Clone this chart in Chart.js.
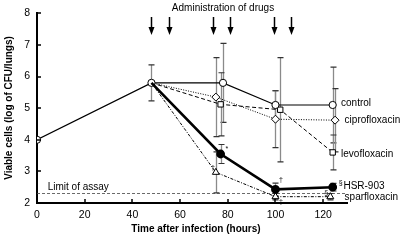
<!DOCTYPE html>
<html>
<head>
<meta charset="utf-8">
<script src="https://cdn.jsdelivr.net/npm/chart.js@4.4.1/dist/chart.umd.min.js"></script>
<style>
  html, body { margin: 0; padding: 0; background: #fff; }
</style>
</head>
<body>
<canvas id="myChart" width="400" height="240"></canvas>
<script>
// values (log CFU / lungs)
const controlX = [0, 48, 78, 100, 124];
const controlY = [4.0, 5.8, 5.8, 5.1, 5.1];
const controlErr = [0, 0.57, 1.25, 0.45, 1.2];

const ciproX = [48, 75, 100, 125];
const ciproY = [5.8, 5.35, 4.65, 4.62];
const ciproErr = [0, 1.25, 0.9, 1.0];

const levoX = [48, 77, 102, 124];
const levoY = [5.8, 5.12, 4.95, 3.6];
const levoErr = [0, 1.0, 1.65, 0.55];

const hsrX = [48, 77, 100, 124];
const hsrY = [5.8, 3.55, 2.43, 2.5];
const hsrErr = [0, 0.3, 0.2, 0.12];

const sparX = [48, 75, 100, 123];
const sparY = [5.8, 2.97, 2.2, 2.2];
const sparErr = [0, 0.65, 0.1, 0.1];

const limitOfAssay = 2.3;
const arrowTimes = [48, 55.5, 74, 81, 99.5, 106.5];
const xTicks = [0, 20, 40, 60, 80, 100, 120];
const yTicks = [2, 3, 4, 5, 6, 7, 8];

const FONT = "'Liberation Sans', Arial, sans-serif";

function pts(xs, ys) {
  return xs.map((x, i) => ({ x: x, y: ys[i] }));
}

// first point at 48h is shared with control, hide it on the drug lines
function radii(n, r) {
  const a = [];
  for (let i = 0; i < n; i++) a.push(i === 0 ? 0 : r);
  return a;
}

const series = [
  { label: 'HSR-903', x: hsrX, y: hsrY, err: hsrErr },
  { label: 'control', x: controlX, y: controlY, err: controlErr },
  { label: 'ciprofloxacin', x: ciproX, y: ciproY, err: ciproErr },
  { label: 'levofloxacin', x: levoX, y: levoY, err: levoErr },
  { label: 'sparfloxacin', x: sparX, y: sparY, err: sparErr }
];

const errorBars = {
  id: 'errorBars',
  beforeDatasetsDraw(chart) {
    const ctx = chart.ctx;
    const xs = chart.scales.x, ys = chart.scales.y;
    ctx.save();
    series.forEach(s => {
      s.x.forEach((xv, i) => {
        const e = s.err[i];
        if (!e) return;
        const px = Math.round(xs.getPixelForValue(xv)) + 0.5;
        const top = ys.getPixelForValue(s.y[i] + e);
        const bot = ys.getPixelForValue(Math.max(s.y[i] - e, 2));
        ctx.strokeStyle = '#8a8a8a';
        ctx.lineWidth = 1.3;
        ctx.beginPath();
        ctx.moveTo(px, top);
        ctx.lineTo(px, bot);
        ctx.stroke();
        ctx.strokeStyle = '#333';
        ctx.lineWidth = 1.2;
        ctx.beginPath();
        ctx.moveTo(px - 3, top); ctx.lineTo(px + 3, top);
        if (s.y[i] - e > 2) { ctx.moveTo(px - 3, bot); ctx.lineTo(px + 3, bot); }
        ctx.stroke();
      });
    });
    ctx.restore();
  }
};

const decorations = {
  id: 'decorations',
  afterDraw(chart) {
    const ctx = chart.ctx;
    const xs = chart.scales.x, ys = chart.scales.y;
    const area = chart.chartArea;
    ctx.save();

    // inward tick marks
    ctx.strokeStyle = '#000';
    ctx.lineWidth = 1.5;
    ctx.beginPath();
    xTicks.forEach(t => {
      if (t === 0) return;
      const px = Math.round(xs.getPixelForValue(t));
      ctx.moveTo(px, area.bottom);
      ctx.lineTo(px, area.bottom - 4);
    });
    yTicks.forEach(t => {
      const py = Math.round(ys.getPixelForValue(t));
      ctx.moveTo(area.left, py);
      ctx.lineTo(area.left + 4, py);
    });
    ctx.stroke();

    // drug administration arrows
    ctx.fillStyle = '#000';
    ctx.lineWidth = 1.5;
    arrowTimes.forEach(t => {
      const px = Math.round(xs.getPixelForValue(t)) + 0.5;
      ctx.beginPath();
      ctx.moveTo(px, 17);
      ctx.lineTo(px, 29);
      ctx.stroke();
      ctx.beginPath();
      ctx.moveTo(px - 3, 27);
      ctx.lineTo(px + 3, 27);
      ctx.lineTo(px, 35);
      ctx.closePath();
      ctx.fill();
    });

    ctx.fillStyle = '#000';
    ctx.textBaseline = 'middle';
    ctx.font = '10px ' + FONT;
    ctx.textAlign = 'center';
    ctx.fillText('Administration of drugs', xs.getPixelForValue(78), 8);

    // series labels
    ctx.textAlign = 'left';
    ctx.fillText('control', xs.getPixelForValue(127.5), ys.getPixelForValue(5.15));
    ctx.fillText('ciprofloxacin', xs.getPixelForValue(129), ys.getPixelForValue(4.62));
    ctx.fillText('levofloxacin', xs.getPixelForValue(127.5), ys.getPixelForValue(3.55));
    ctx.fillText('HSR-903', xs.getPixelForValue(128.5), ys.getPixelForValue(2.52));
    ctx.fillText('sparfloxacin', xs.getPixelForValue(129), ys.getPixelForValue(2.17));
    ctx.fillText('Limit of assay', xs.getPixelForValue(4.5), ys.getPixelForValue(2.5));

    ctx.font = '7px ' + FONT;
    ctx.fillText('§', xs.getPixelForValue(126.5), ys.getPixelForValue(2.62));
    ctx.fillText('*', xs.getPixelForValue(79), ys.getPixelForValue(3.7));
    ctx.fillText('†', xs.getPixelForValue(101.5), ys.getPixelForValue(2.72));
    ctx.fillText('‡', xs.getPixelForValue(101.5), ys.getPixelForValue(2.02));
    ctx.fillText('§', xs.getPixelForValue(120.5), ys.getPixelForValue(2.33));
    ctx.fillText('†', xs.getPixelForValue(73), ys.getPixelForValue(3.1));

    // axis titles
    ctx.font = 'bold 10px ' + FONT;
    ctx.textAlign = 'center';
    ctx.fillText('Time after infection (hours)', 196, 229);
    ctx.translate(9, 108);
    ctx.rotate(-Math.PI / 2);
    ctx.fillText('Viable cells (log of CFU/lungs)', 0, 0);

    ctx.restore();
  }
};

const config = {
  type: 'line',
  data: {
    datasets: [
      {
        label: 'HSR-903',
        data: pts(hsrX, hsrY),
        borderColor: '#000',
        borderWidth: 2.6,
        pointStyle: 'circle',
        pointRadius: radii(hsrX.length, 3.1),
        pointBackgroundColor: '#000',
        pointBorderColor: '#000'
      },
      {
        label: 'control',
        data: pts(controlX, controlY),
        borderColor: '#000',
        borderWidth: 1.2,
        pointStyle: 'circle',
        pointRadius: 3.6,
        pointBackgroundColor: '#fff',
        pointBorderColor: '#000',
        pointBorderWidth: 1
      },
      {
        label: 'ciprofloxacin',
        data: pts(ciproX, ciproY),
        borderColor: '#000',
        borderWidth: 1,
        borderDash: [1, 1.5],
        pointStyle: 'rectRot',
        pointRadius: radii(ciproX.length, 4),
        pointBackgroundColor: '#fff',
        pointBorderColor: '#000',
        pointBorderWidth: 1
      },
      {
        label: 'levofloxacin',
        data: pts(levoX, levoY),
        borderColor: '#000',
        borderWidth: 1,
        borderDash: [4, 2.5],
        pointStyle: 'rect',
        pointRadius: radii(levoX.length, 3.8),
        pointBackgroundColor: '#fff',
        pointBorderColor: '#000',
        pointBorderWidth: 1
      },
      {
        label: 'sparfloxacin',
        data: pts(sparX, sparY),
        borderColor: '#000',
        borderWidth: 1,
        borderDash: [3, 1.5, 1, 1.5],
        pointStyle: 'triangle',
        pointRadius: radii(sparX.length, 4),
        pointBackgroundColor: '#fff',
        pointBorderColor: '#000',
        pointBorderWidth: 1
      },
      {
        label: 'limit',
        data: [{ x: 0, y: limitOfAssay }, { x: 130, y: limitOfAssay }],
        borderColor: '#444',
        borderWidth: 0.8,
        borderDash: [3, 2],
        pointRadius: 0
      }
    ]
  },
  options: {
    responsive: false,
    animation: false,
    devicePixelRatio: 1,
    layout: { padding: { top: 13, right: 53, left: 0, bottom: 0 } },
    plugins: {
      legend: { display: false },
      tooltip: { enabled: false }
    },
    scales: {
      x: {
        type: 'linear',
        min: 0,
        max: 130,
        afterBuildTicks: s => { s.ticks = xTicks.map(v => ({ value: v })); },
        afterFit: s => { s.height = 37; },
        grid: { display: false, drawTicks: false },
        border: { display: true, color: '#000', width: 2 },
        ticks: { color: '#000', padding: 6, font: { family: FONT, size: 10.5 } }
      },
      y: {
        type: 'linear',
        min: 2,
        max: 8,
        afterBuildTicks: s => { s.ticks = yTicks.map(v => ({ value: v })); },
        afterFit: s => { s.width = 37; },
        grid: { display: false, drawTicks: false },
        border: { display: true, color: '#000', width: 2 },
        ticks: { color: '#000', padding: 7, font: { family: FONT, size: 10.5 } }
      }
    }
  },
  plugins: [errorBars, decorations]
};

new Chart('myChart', config);
</script>
</body>
</html>
